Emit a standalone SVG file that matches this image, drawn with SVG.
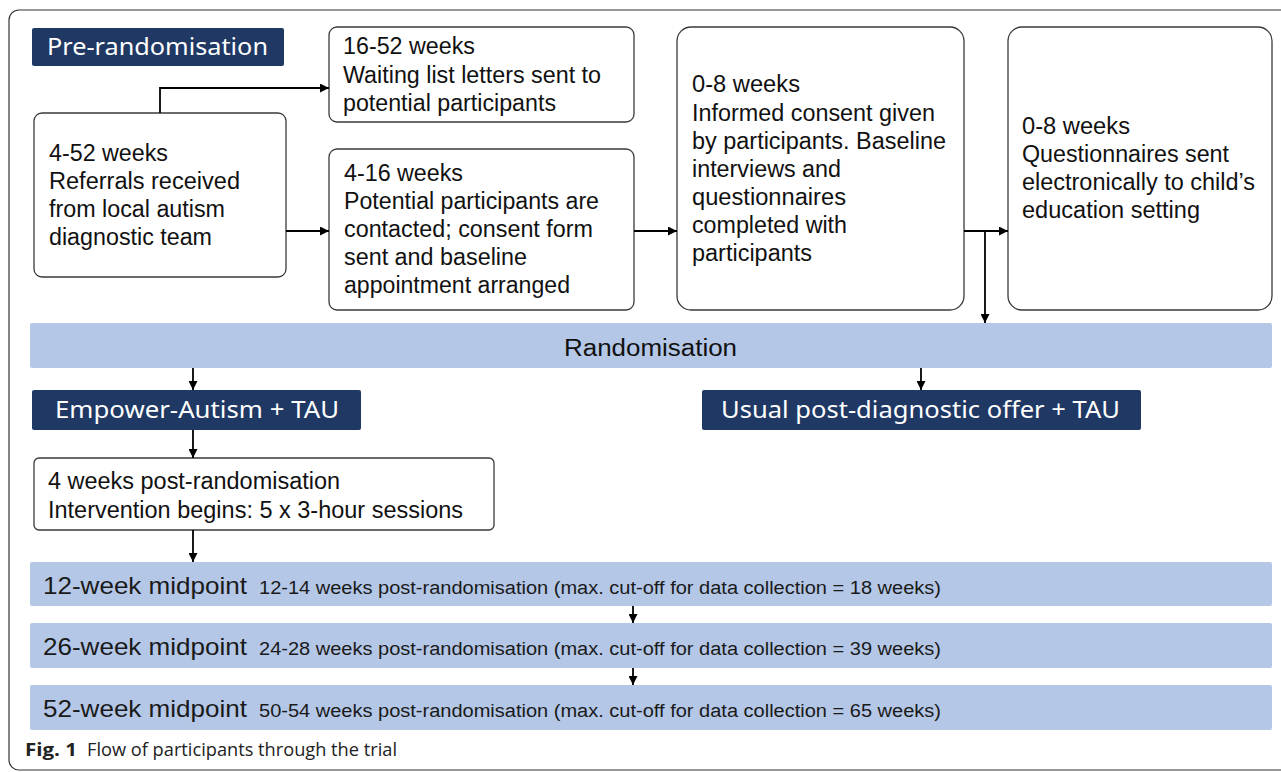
<svg xmlns="http://www.w3.org/2000/svg" width="1281" height="772" viewBox="0 0 1281 772">
<defs>
<marker id="ah" viewBox="0 0 10 10" refX="10" refY="5" markerWidth="9" markerHeight="9" markerUnits="userSpaceOnUse" orient="auto"><path d="M0,0 L10,5 L0,10 z" fill="#000"/></marker>
<style>
.box{fill:#fff;stroke:#3a3a3a;stroke-width:1.3}
.navy{fill:#203864}
.bar{fill:#b4c7e7}
.t{font-family:"Liberation Sans",Arial,sans-serif;font-size:23px;fill:#111}
.h{font-family:"Noto Sans","Open Sans",sans-serif;font-size:23px;fill:#fff}
.mb{font-family:"Liberation Sans",Arial,sans-serif;font-size:24px;fill:#1a1a1a}
.ms{font-family:"Liberation Sans",Arial,sans-serif;font-size:18px;fill:#1a1a1a}
.cap{font-family:"Open Sans","Noto Sans",sans-serif;font-size:18px;fill:#222}
.c{fill:none;stroke:#000;stroke-width:1.8}
</style>
</defs>
<rect x="9" y="10" width="1290" height="760" rx="10" fill="#fff" stroke="#333" stroke-width="1.2"/>

<g id="pre">
<rect class="navy" x="32" y="28" width="252" height="38" rx="2"/>
<text class="h" x="47" y="55" textLength="221" lengthAdjust="spacingAndGlyphs">Pre-randomisation</text>
</g>

<g id="boxA">
<rect class="box" x="34" y="113" width="252" height="164" rx="8"/>
<text class="t" x="49" y="161" textLength="119" lengthAdjust="spacingAndGlyphs">4-52 weeks</text>
<text class="t" x="49" y="189" textLength="191" lengthAdjust="spacingAndGlyphs">Referrals received</text>
<text class="t" x="49" y="217" textLength="176" lengthAdjust="spacingAndGlyphs">from local autism</text>
<text class="t" x="49" y="245" textLength="163" lengthAdjust="spacingAndGlyphs">diagnostic team</text>
</g>

<g id="boxB">
<rect class="box" x="329" y="27" width="305" height="95" rx="8"/>
<text class="t" x="343" y="54" textLength="132" lengthAdjust="spacingAndGlyphs">16-52 weeks</text>
<text class="t" x="343" y="83" textLength="258" lengthAdjust="spacingAndGlyphs">Waiting list letters sent to</text>
<text class="t" x="343" y="111" textLength="213" lengthAdjust="spacingAndGlyphs">potential participants</text>
</g>

<g id="boxC">
<rect class="box" x="329" y="149" width="305" height="161" rx="8"/>
<text class="t" x="344" y="181" textLength="119" lengthAdjust="spacingAndGlyphs">4-16 weeks</text>
<text class="t" x="344" y="209" textLength="255" lengthAdjust="spacingAndGlyphs">Potential participants are</text>
<text class="t" x="344" y="237" textLength="249" lengthAdjust="spacingAndGlyphs">contacted; consent form</text>
<text class="t" x="344" y="265" textLength="183" lengthAdjust="spacingAndGlyphs">sent and baseline</text>
<text class="t" x="344" y="293" textLength="226" lengthAdjust="spacingAndGlyphs">appointment arranged</text>
</g>

<g id="boxD">
<rect class="box" x="677" y="27" width="287" height="283" rx="14"/>
<text class="t" x="692" y="92" textLength="108" lengthAdjust="spacingAndGlyphs">0-8 weeks</text>
<text class="t" x="692" y="121" textLength="243" lengthAdjust="spacingAndGlyphs">Informed consent given</text>
<text class="t" x="692" y="149" textLength="254" lengthAdjust="spacingAndGlyphs">by participants. Baseline</text>
<text class="t" x="692" y="177" textLength="149" lengthAdjust="spacingAndGlyphs">interviews and</text>
<text class="t" x="692" y="205" textLength="154" lengthAdjust="spacingAndGlyphs">questionnaires</text>
<text class="t" x="692" y="233" textLength="155" lengthAdjust="spacingAndGlyphs">completed with</text>
<text class="t" x="692" y="261" textLength="120" lengthAdjust="spacingAndGlyphs">participants</text>
</g>

<g id="boxE">
<rect class="box" x="1008" y="27" width="264" height="283" rx="14"/>
<text class="t" x="1022" y="134" textLength="108" lengthAdjust="spacingAndGlyphs">0-8 weeks</text>
<text class="t" x="1022" y="162" textLength="207" lengthAdjust="spacingAndGlyphs">Questionnaires sent</text>
<text class="t" x="1022" y="190" textLength="233" lengthAdjust="spacingAndGlyphs">electronically to child’s</text>
<text class="t" x="1022" y="218" textLength="178" lengthAdjust="spacingAndGlyphs">education setting</text>
</g>

<g id="randomisation">
<rect class="bar" x="30" y="323" width="1242" height="45" rx="2"/>
<text class="t" x="564" y="356" font-size="24" textLength="173" lengthAdjust="spacingAndGlyphs">Randomisation</text>
</g>

<g id="empower">
<rect class="navy" x="32" y="390" width="329" height="40" rx="2"/>
<text class="h" x="55" y="418" textLength="284" lengthAdjust="spacingAndGlyphs">Empower-Autism + TAU</text>
</g>

<g id="usual">
<rect class="navy" x="702" y="390" width="439" height="40" rx="2"/>
<text class="h" x="721" y="418" textLength="399" lengthAdjust="spacingAndGlyphs">Usual post-diagnostic offer + TAU</text>
</g>

<g id="fourweeks">
<rect class="box" x="34" y="458" width="460" height="72" rx="5"/>
<text class="t" x="48" y="489" textLength="292" lengthAdjust="spacingAndGlyphs">4 weeks post-randomisation</text>
<text class="t" x="48" y="518" textLength="415" lengthAdjust="spacingAndGlyphs">Intervention begins: 5 x 3-hour sessions</text>
</g>

<g id="w12">
<rect class="bar" x="30" y="562" width="1242" height="44" rx="2"/>
<text class="mb" x="43" y="594" textLength="204" lengthAdjust="spacingAndGlyphs">12-week midpoint</text>
<text class="ms" x="259" y="594" textLength="682" lengthAdjust="spacingAndGlyphs">12-14 weeks post-randomisation (max. cut-off for data collection = 18 weeks)</text>
</g>

<g id="w26">
<rect class="bar" x="30" y="623" width="1242" height="45" rx="2"/>
<text class="mb" x="43" y="655" textLength="204" lengthAdjust="spacingAndGlyphs">26-week midpoint</text>
<text class="ms" x="259" y="655" textLength="682" lengthAdjust="spacingAndGlyphs">24-28 weeks post-randomisation (max. cut-off for data collection = 39 weeks)</text>
</g>

<g id="w52">
<rect class="bar" x="30" y="685" width="1242" height="45" rx="2"/>
<text class="mb" x="43" y="717" textLength="204" lengthAdjust="spacingAndGlyphs">52-week midpoint</text>
<text class="ms" x="259" y="717" textLength="682" lengthAdjust="spacingAndGlyphs">50-54 weeks post-randomisation (max. cut-off for data collection = 65 weeks)</text>
</g>

<g id="connectors">
<path class="c" d="M160,113 V88 H329" marker-end="url(#ah)"/>
<path class="c" d="M286,231 H329" marker-end="url(#ah)"/>
<path class="c" d="M634,231 H677" marker-end="url(#ah)"/>
<path class="c" d="M964,231 H1008" marker-end="url(#ah)"/>
<path class="c" d="M985,231 V323" marker-end="url(#ah)"/>
<path class="c" d="M193,368 V390" marker-end="url(#ah)"/>
<path class="c" d="M921,368 V390" marker-end="url(#ah)"/>
<path class="c" d="M193,430 V458" marker-end="url(#ah)"/>
<path class="c" d="M193,530 V562" marker-end="url(#ah)"/>
<path class="c" d="M633,606 V623" marker-end="url(#ah)"/>
<path class="c" d="M633,668 V685" marker-end="url(#ah)"/>
</g>

<g id="caption">
<text class="cap" x="25" y="756"><tspan font-weight="bold" textLength="52" lengthAdjust="spacingAndGlyphs">Fig. 1</tspan></text>
<text class="cap" x="87" y="756" textLength="310" lengthAdjust="spacingAndGlyphs">Flow of participants through the trial</text>
</g>
</svg>
